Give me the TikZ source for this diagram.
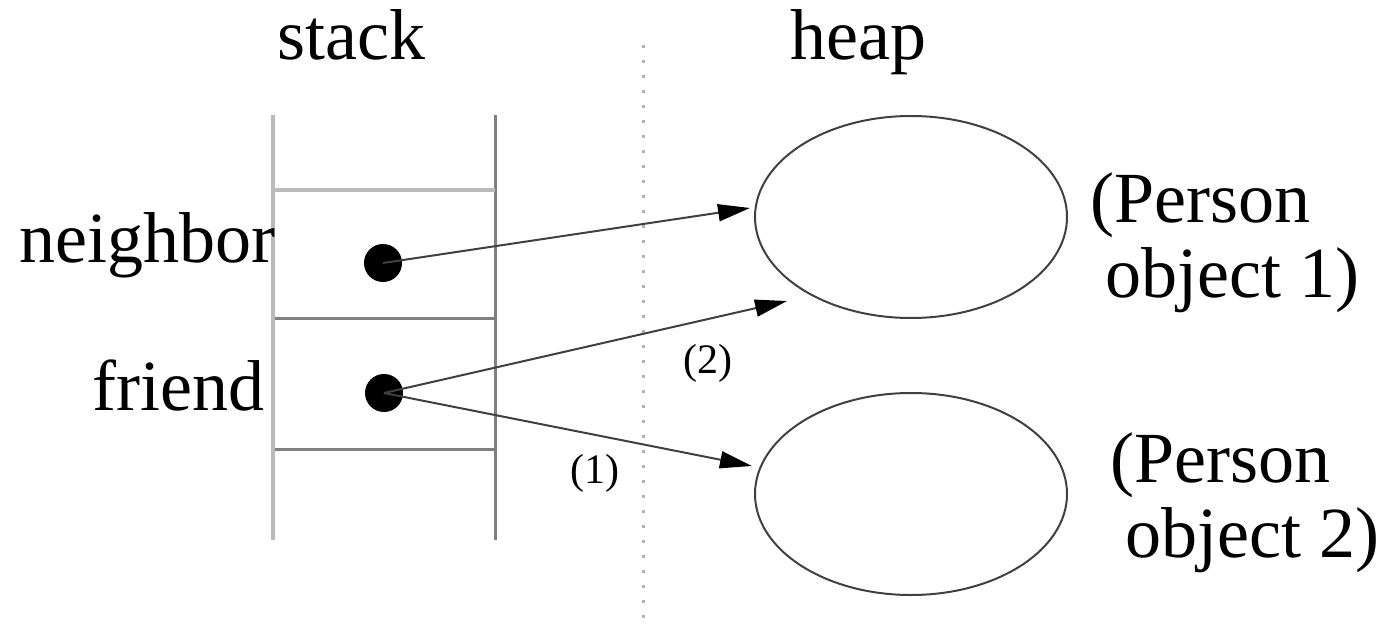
\documentclass[tikz,border=0pt]{standalone}
\usepackage{fontspec}
\setmainfont{Liberation Serif}
\usetikzlibrary{arrows.meta,shapes.geometric}
\begin{document}
\begin{tikzpicture}[x=1pt,y=-1pt,
  big/.style={inner sep=0pt,anchor=base west,font=\fontsize{72}{75}\selectfont},
  small/.style={inner sep=0pt,anchor=base west,font=\fontsize{42}{44}\selectfont},
  obj/.style={draw=black!75,line width=2pt,ellipse,inner sep=0pt,minimum width=312pt,minimum height=202pt},
  ref/.style={circle,fill=black,inner sep=0pt,minimum size=38pt},
  ptr/.style={draw=black!75,line width=2pt,-{Triangle[length=32pt,width=17pt,color=black]}},
  lightline/.style={draw=black!27,line width=4.5pt},
  darkline/.style={draw=black!50,line width=3pt}]
\useasboundingbox (0,0) rectangle (1386,628);
% stack frame
\coordinate (sl1) at (273,115); \coordinate (sl2) at (273,540);
\coordinate (sr1) at (495,115); \coordinate (sr2) at (495,540);
\coordinate (h1a) at (273,190); \coordinate (h1b) at (495,190);
\coordinate (h2a) at (273,318); \coordinate (h2b) at (495,318);
\coordinate (h3a) at (273,449); \coordinate (h3b) at (495,449);
\draw[darkline] (sr1) -- (sr2);
\draw[darkline] (h2a) -- (h2b);
\draw[darkline] (h3a) -- (h3b);
\draw[lightline] (h1a) -- (h1b);
\draw[lightline] (sl1) -- (sl2);
% divider
\coordinate (d1) at (643,45); \coordinate (d2) at (643,628);
\draw[draw=black!30,line width=3pt,dash pattern=on 3pt off 12pt] (d1) -- (d2);
% labels
\node[big] (stack) at (277,60) {stack};
\node[big] (heap) at (790,60) {heap};
\node[big] (neighbor) at (19,262) {neighbor};
\node[big] (friend) at (92,410) {friend};
\node[big] (p1a) at (1090,223) {(Person};
\node[big] (p1b) at (1105,298) {object 1)};
\node[big] (p2a) at (1110,482) {(Person};
\node[big] (p2b) at (1125,557) {object 2)};
\node[small] (l2) at (683,373) {(2)};
\node[small] (l1) at (570,483) {(1)};
% objects
\node[obj] (e1) at (911,217) {};
\node[obj] (e2) at (911,494) {};
% references
\node[ref] (nd) at (383,263) {};
\node[ref] (fd) at (384,393) {};
\coordinate (t1) at (750,208);
\coordinate (t2) at (787,301);
\coordinate (t3) at (752,466);
\draw[ptr] (nd.center) -- (t1);
\draw[ptr] (fd.center) -- (t2);
\draw[ptr] (fd.center) -- (t3);
\end{tikzpicture}
\end{document}
